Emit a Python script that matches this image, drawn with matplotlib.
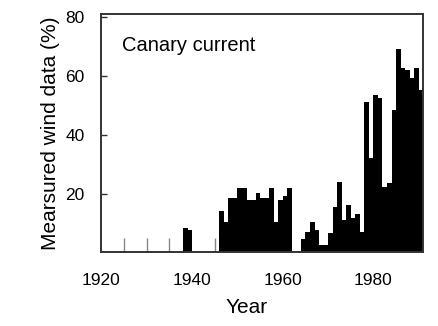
import matplotlib
import matplotlib.pyplot as plt

matplotlib.use('Agg')

# yearly share of measured wind observations
years = [1938, 1939] + list(range(1946, 1991))
share = [8.2, 7.5,
         14, 10.5, 18.4, 18.4, 21.8, 21.8, 17.8, 17.8, 20.1, 18.4, 18.4, 21.8,
         10.4, 17.8, 19.3, 21.8,
         0, 0,
         4.7, 7, 10.4, 7.6, 2.5, 2.5, 6.5, 15.5, 24, 11, 16, 11.6, 13, 7,
         51, 32, 53.5, 52.4, 22.3, 23.5, 48.4,
         69, 62.6, 62, 59.2, 62.6, 55.2]

# isolated single reports
spike_years = [1925, 1930, 1935, 1945]
spike_share = [5, 5, 5, 5]

plt.rcParams['font.family'] = ['Liberation Sans', 'DejaVu Sans']

fig = plt.figure(figsize=(4.38, 3.26), dpi=100)
ax = fig.add_axes([0.2317, 0.2255, 0.7347, 0.7315])

ax.bar(years, share, width=1, align='edge', color='black', linewidth=0)
ax.vlines(spike_years, 0, spike_share, color='#888888', linewidth=1)

ax.set_xlim(1920, 1991)
ax.set_ylim(0, 81)
ax.set_xticks([1920, 1940, 1960, 1980])
ax.set_yticks([20, 40, 60, 80])
ax.tick_params(axis='x', length=0, pad=14.5, labelsize=12.5)
ax.tick_params(axis='y', direction='in', length=4, width=1, pad=12,
               labelsize=12.5, color='#333333')
for s in ax.spines.values():
    s.set_linewidth(1.4)
    s.set_color('#333333')

ax.text(1924.5, 70.2, 'Canary current', fontsize=14.5, va='center')
ax.set_xlabel('Year', fontsize=15)
ax.xaxis.set_label_coords(0.45, -0.19)
ax.set_ylabel('Mearsured wind data (%)', fontsize=15, labelpad=4)

fig.savefig('out.png', dpi=100)
